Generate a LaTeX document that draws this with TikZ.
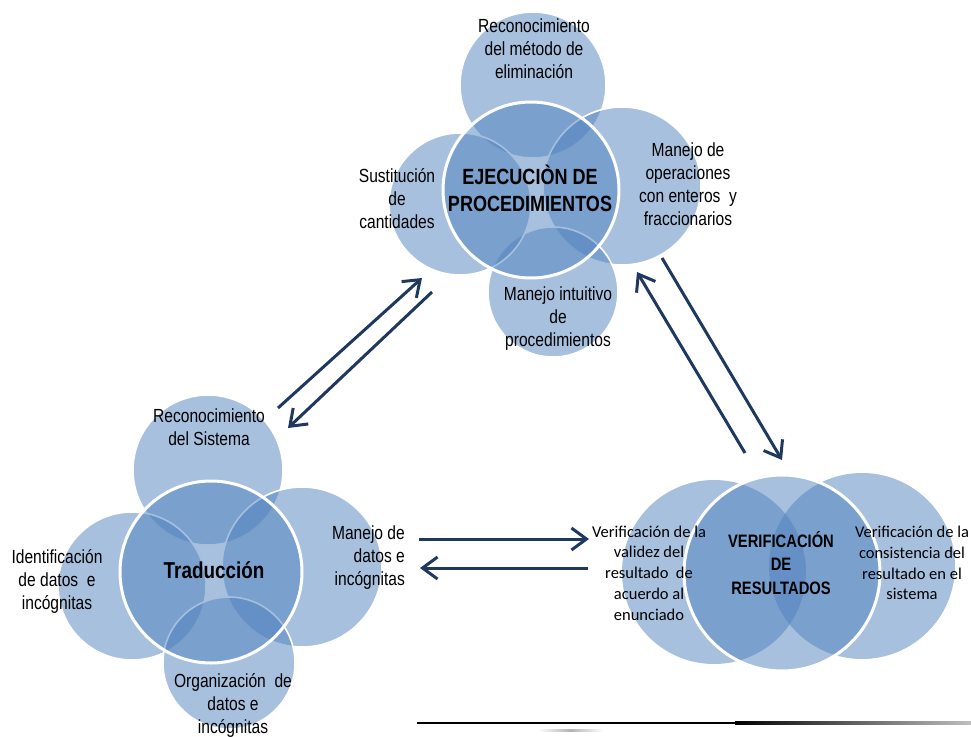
\documentclass[tikz,border=0pt]{standalone}
\usepackage{fontspec}
\setmainfont{Liberation Sans}[FakeStretch=0.82]
\newfontfamily\calib{Carlito}
\usetikzlibrary{arrows.meta}
\definecolor{vennblue}{RGB}{79,129,189}
\definecolor{arrowblue}{RGB}{31,56,96}
\begin{document}
\begin{tikzpicture}[x=1pt,y=-1pt,
  sat/.style={circle,fill=vennblue,fill opacity=0.5,draw=white,line width=1.6pt,minimum size=#1,inner sep=0pt},
  satnb/.style={circle,fill=vennblue,fill opacity=0.5,draw=none,minimum size=#1,inner sep=0pt},
  hub/.style={circle,fill=vennblue,fill opacity=0.5,draw=white,line width=3pt,minimum size=#1,inner sep=0pt},
  lbl/.style={font=\fontsize{19}{23}\selectfont,align=center,text=black,inner sep=0pt},
  clbl/.style={font=\calib\fontsize{16.5}{20.7}\selectfont,align=center,text=black,inner sep=0pt},
  ttl/.style={font=\bfseries\fontsize{22}{27}\selectfont,align=center,text=black,inner sep=0pt},
  arr/.style={draw=arrowblue,line width=3pt,-{Straight Barb[length=15pt,width=22pt,line width=3pt]}}
]
\useasboundingbox (0,0) rectangle (971,736);

% ---------- top cluster ----------
\node[sat=146pt] (ttop) at (533,85) {};
\node[sat=158pt] (tright) at (622,186) {};
\node[sat=130pt] (tbot) at (553,292) {};
\node[sat=142pt] (tleft) at (460,204) {};
\node[hub=176pt] (thub) at (531,190) {};

\node[lbl] (ttopL) at (534,49) {Reconocimiento\\del método de\\eliminación};
\node[lbl] (tleftL) at (397,199) {Sustitución\\de\\cantidades};
\node[lbl] (trightL) at (688,184) {Manejo de\\operaciones\\con enteros \ y\\fraccionarios};
\node[lbl] (tbotL) at (558,319) {Manejo intuitivo\\de\\procedimientos};
\node[ttl] (thubL) at (530,188) {EJECUCIÒN DE\\PROCEDIMIENTOS};

% ---------- bottom-left cluster ----------
\node[sat=150pt] (btop) at (208,470) {};
\node[sat=148pt] (bleft) at (132,586) {};
\node[sat=160pt] (bright) at (302,567) {};
\node[sat=132pt] (bbot) at (229,663) {};
\node[hub=182pt] (bhub) at (211,572) {};

\node[lbl] (btopL) at (209,427) {Reconocimiento\\del Sistema};
\node[lbl] (bleftL) at (57,581) {Identificación\\de datos \ e\\incógnitas};
\node[lbl,anchor=east,align=right] (brightL) at (405,558) {Manejo de\\datos e\\incógnitas};
\node[lbl] (bbotL) at (233,705) {Organización \ de\\datos e\\incógnitas};
\node[ttl,font=\bfseries\fontsize{23}{27}\selectfont] (bhubL) at (214,570) {Traducción};

% ---------- right cluster ----------
\node[satnb=184pt] (rleft) at (714,572) {};
\node[satnb=186pt] (rright) at (862,566) {};
\node[hub=196pt] (rhub) at (782,573) {};

\node[clbl] (rleftL) at (649,573) {Verificación de la\\validez del\\resultado \ de\\acuerdo al\\enunciado};
\node[clbl] (rrightL) at (912,563) {Verificación de la\\consistencia del\\resultado en el\\sistema};
\node[ttl,font=\bfseries\fontsize{18}{23.5}\selectfont] (rhubL) at (781,563) {VERIFICACIÓN\\DE\\RESULTADOS};

% ---------- arrows ----------
\coordinate (a1s) at (278,408);
\coordinate (a1e) at (422,278);
\coordinate (a2s) at (432,292);
\coordinate (a2e) at (288,428);
\coordinate (a3s) at (745,453);
\coordinate (a3e) at (637,272);
\coordinate (a4s) at (662,258);
\coordinate (a4e) at (782,460);
\coordinate (a5s) at (419,539);
\coordinate (a5e) at (589,539);
\coordinate (a6s) at (588,568);
\coordinate (a6e) at (420,568);
\draw[arr] (a1s) -- (a1e);
\draw[arr] (a2s) -- (a2e);
\draw[arr] (a3s) -- (a3e);
\draw[arr] (a4s) -- (a4e);
\draw[arr] (a5s) -- (a5e);
\draw[arr] (a6s) -- (a6e);

% ---------- bottom rule ----------
\fill[black] (417,721.8) rectangle (735,724.2);
\shade[left color=black,right color=black!25] (735,721.8) rectangle (971,724.2);
\shade[left color=white,right color=white,middle color=black!30] (538,729.6) rectangle (603,731);
\end{tikzpicture}
\end{document}
